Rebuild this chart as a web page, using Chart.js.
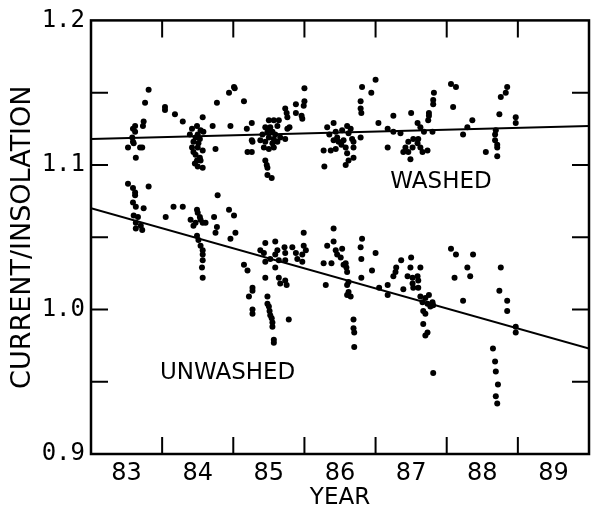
<!DOCTYPE html>
<html>
<head>
<meta charset="utf-8">
<script src="https://cdn.jsdelivr.net/npm/chart.js@4.4.0/dist/chart.umd.min.js"></script>
<style>
html, body { margin: 0; padding: 0; background: #fff; }
canvas { display: block; }
</style>
</head>
<body>
<canvas id="myChart" width="592" height="506"></canvas>
<script>
// axis labels and tick positions
const yearLabels = ['83', '84', '85', '86', '87', '88', '89'];
const yearLabelAt = [83.5, 84.5, 85.5, 86.5, 87.5, 88.5, 89.5];
const yearTicks = [84, 85, 86, 87, 88, 89];
const ratioTicks = [0.9, 1.0, 1.1, 1.2];
const ratioInnerTicks = [0.95, 1.0, 1.05, 1.1, 1.15];

// [year, current/insolation]
const washed = [
  [83.81,1.152],[83.76,1.143],[84.04,1.140],[84.04,1.138],[84.18,1.135],[84.29,1.130],[83.74,1.130],[83.73,1.127],
  [83.62,1.127],[83.59,1.125],[83.62,1.123],[83.58,1.119],[83.59,1.116],[83.60,1.115],[83.52,1.112],[83.69,1.112],
  [83.72,1.112],[83.63,1.105],
  [84.57,1.133],[84.71,1.127],[84.42,1.125],[84.49,1.127],[84.54,1.124],[84.58,1.123],[84.50,1.121],[84.47,1.119],
  [84.53,1.118],[84.44,1.116],[84.42,1.112],[84.50,1.112],[84.57,1.110],[84.44,1.109],[84.53,1.105],[84.49,1.103],
  [84.46,1.101],[84.57,1.098],[84.50,1.099],[84.77,1.143],[84.39,1.121],[84.51,1.115],[84.47,1.107],[84.54,1.103],
  [85.01,1.154],[85.02,1.153],[84.94,1.150],[85.15,1.144],[84.96,1.127],[85.19,1.125],[85.26,1.129],[85.26,1.117],
  [85.27,1.116],[85.20,1.109],[85.26,1.109],[84.75,1.111],
  [85.50,1.131],[85.57,1.131],[85.64,1.131],[85.45,1.126],[85.52,1.126],[85.62,1.127],[85.48,1.123],[85.55,1.123],
  [85.41,1.121],[85.50,1.119],[85.57,1.118],[85.66,1.119],[85.76,1.125],[85.73,1.118],[85.38,1.117],[85.45,1.116],
  [85.55,1.115],[85.62,1.116],[85.43,1.112],[85.50,1.111],[85.57,1.112],[85.45,1.103],[85.47,1.100],[85.48,1.098],
  [85.48,1.093],[85.54,1.091],[85.73,1.139],[85.75,1.136],[85.76,1.133],[85.88,1.142],[85.88,1.136],[85.96,1.134],
  [85.97,1.132],[86.00,1.153],[86.00,1.144],[85.99,1.141],[85.79,1.126],[85.52,1.124],[85.59,1.121],
  [86.41,1.129],[86.32,1.126],[86.44,1.123],[86.46,1.119],[86.41,1.117],[86.48,1.116],[86.27,1.110],[86.37,1.110],
  [86.44,1.111],[86.28,1.099],[86.60,1.127],[86.53,1.124],[86.62,1.122],[86.67,1.118],[86.55,1.117],[86.69,1.116],
  [86.58,1.112],[86.69,1.112],[86.60,1.108],[86.69,1.105],[86.62,1.103],[86.58,1.100],[86.79,1.119],[87.00,1.159],
  [86.81,1.154],[86.94,1.150],[86.79,1.144],[86.79,1.139],[86.80,1.136],[86.35,1.121],[86.52,1.114],[86.65,1.125],
  [87.25,1.134],[87.50,1.136],[87.04,1.129],[87.59,1.129],[87.63,1.126],[87.82,1.150],[87.81,1.145],[87.81,1.142],
  [87.75,1.136],[87.75,1.134],[87.74,1.131],[88.06,1.156],[88.13,1.154],[88.09,1.140],[88.23,1.121],[87.17,1.125],
  [87.35,1.122],[87.25,1.123],[87.17,1.112],[87.53,1.118],[87.60,1.118],[87.46,1.116],[87.59,1.115],[87.42,1.112],
  [87.52,1.112],[87.63,1.112],[87.39,1.109],[87.46,1.109],[87.66,1.109],[87.73,1.110],[87.49,1.104],[87.68,1.123],
  [87.80,1.123],
  [88.85,1.154],[88.83,1.150],[88.76,1.147],[88.74,1.135],[88.97,1.133],[88.97,1.129],[88.36,1.131],[88.29,1.126],
  [88.69,1.124],[88.68,1.121],[88.68,1.117],[88.71,1.114],[88.71,1.112],[88.71,1.106],[88.55,1.109]
];

const unwashed = [
  [83.52,1.087],[83.59,1.084],[83.62,1.081],[83.62,1.079],[83.81,1.085],[83.59,1.074],[83.63,1.071],[83.74,1.070],
  [83.60,1.065],[83.66,1.064],[83.63,1.060],[83.70,1.058],[83.63,1.056],[83.72,1.055],
  [84.05,1.064],[84.16,1.071],[84.29,1.071],[84.49,1.069],[84.50,1.067],[84.40,1.062],[84.47,1.060],[84.54,1.062],
  [84.61,1.060],[84.44,1.058],[84.57,1.060],[84.49,1.051],[84.51,1.048],[84.54,1.044],[84.57,1.041],[84.57,1.038],
  [84.57,1.034],[84.56,1.029],[84.57,1.022],[84.73,1.064],[84.77,1.057],[84.75,1.053],[84.78,1.079],[84.94,1.069],
  [85.01,1.065],[85.03,1.053],[84.96,1.049],[84.53,1.064],
  [85.45,1.046],[85.59,1.047],[85.38,1.041],[85.43,1.039],[85.62,1.041],[85.73,1.039],[85.59,1.038],[85.45,1.033],
  [85.52,1.035],[85.64,1.034],[85.73,1.034],[85.88,1.039],[85.90,1.035],[85.99,1.053],[85.99,1.044],[86.02,1.041],
  [85.97,1.038],[85.97,1.033],[85.59,1.029],[85.15,1.031],[85.20,1.027],[85.45,1.022],[85.64,1.022],[85.66,1.018],
  [85.73,1.020],[85.75,1.017],[85.27,1.015],[85.27,1.013],[85.22,1.009],[85.48,1.009],[85.48,1.004],[85.50,1.002],
  [85.51,0.999],[85.52,0.996],[85.54,0.994],[85.55,0.991],[85.55,0.988],[85.27,1.000],[85.27,0.997],[85.78,0.993],
  [85.57,0.979],[85.57,0.977],[85.72,1.043],[85.83,1.043],
  [86.41,1.056],[86.32,1.044],[86.41,1.047],[86.44,1.041],[86.46,1.038],[86.38,1.032],[86.27,1.032],[86.30,1.017],
  [86.53,1.042],[86.51,1.036],[86.58,1.032],[86.59,1.029],[86.60,1.026],[86.55,1.031],[86.62,1.019],[86.60,1.017],
  [86.62,1.012],[86.60,1.010],[86.65,1.009],[86.81,1.049],[86.79,1.043],[86.80,1.035],[86.80,1.022],[87.00,1.039],
  [86.95,1.027],[86.69,0.993],[86.69,0.987],[86.70,0.984],[86.70,0.974],
  [87.05,1.015],[87.17,1.017],[87.17,1.010],[87.36,1.034],[87.50,1.036],[87.29,1.029],[87.28,1.026],[87.25,1.023],
  [87.49,1.029],[87.63,1.029],[87.45,1.023],[87.52,1.022],[87.59,1.023],[87.60,1.020],[87.52,1.018],[87.39,1.014],
  [87.53,1.015],[87.60,1.015],[87.63,1.009],[87.70,1.008],[87.75,1.010],[87.66,1.005],[87.73,1.004],[87.80,1.005],
  [87.77,1.002],[87.81,1.003],[87.67,0.999],[87.70,0.997],[87.67,0.990],[87.73,0.984],[87.70,0.982],[87.81,0.956],
  [88.06,1.042],[88.13,1.038],[88.11,1.022],[88.23,1.006],
  [88.37,1.038],[88.29,1.029],[88.33,1.023],[88.76,1.029],[88.74,1.013],[88.85,1.006],[88.85,0.999],[88.97,0.988],
  [88.97,0.984],[88.65,0.973],[88.68,0.964],[88.69,0.957],[88.72,0.948],[88.69,0.940],[88.71,0.935]
];

// fitted lines
const washedTrend = [[83, 1.118], [90, 1.127]];
const unwashedTrend = [[83, 1.070], [90, 0.973]];

const seriesNames = ['WASHED', 'UNWASHED'];
const nameAt = [[87.92, 1.088], [84.92, 0.956]];

const toXY = arr => arr.map(p => ({ x: p[0], y: p[1] }));

// frame, inward ticks and the two labels
const framePlugin = {
  id: 'frame',
  afterDatasetsDraw(chart) {
    const { ctx, chartArea: a, scales: { x, y } } = chart;
    const len = 17;
    ctx.save();
    ctx.strokeStyle = '#000';
    ctx.lineWidth = 2;
    ctx.beginPath();
    yearTicks.forEach(v => {
      const px = x.getPixelForValue(v);
      ctx.moveTo(px, a.top); ctx.lineTo(px, a.top + len);
      ctx.moveTo(px, a.bottom); ctx.lineTo(px, a.bottom - len);
    });
    ratioInnerTicks.forEach(v => {
      const py = y.getPixelForValue(v);
      ctx.moveTo(a.left, py); ctx.lineTo(a.left + len, py);
      ctx.moveTo(a.right, py); ctx.lineTo(a.right - len, py);
    });
    ctx.stroke();
    ctx.lineWidth = 2.5;
    ctx.strokeRect(a.left, a.top, a.right - a.left, a.bottom - a.top);
    ctx.fillStyle = '#000';
    ctx.font = '23px "DejaVu Sans"';
    ctx.textAlign = 'center';
    ctx.textBaseline = 'middle';
    seriesNames.forEach((t, i) => {
      ctx.fillText(t, x.getPixelForValue(nameAt[i][0]), y.getPixelForValue(nameAt[i][1]));
    });
    ctx.restore();
  }
};

const dots = {
  type: 'scatter',
  pointRadius: 3,
  pointHoverRadius: 3,
  pointBorderWidth: 0,
  pointBackgroundColor: '#000',
  showLine: false
};
const trend = {
  type: 'line',
  borderColor: '#000',
  borderWidth: 2,
  pointRadius: 0,
  fill: false,
  tension: 0
};

const ctx = document.getElementById('myChart').getContext('2d');
const myChart = new Chart(ctx, {
  data: {
    datasets: [
      { ...dots, label: seriesNames[0], data: toXY(washed) },
      { ...dots, label: seriesNames[1], data: toXY(unwashed) },
      { ...trend, label: 'washed fit', data: toXY(washedTrend) },
      { ...trend, label: 'unwashed fit', data: toXY(unwashedTrend) }
    ]
  },
  options: {
    responsive: false,
    animation: false,
    devicePixelRatio: 1,
    layout: { padding: { top: 20, right: 2, left: 0, bottom: 0 } },
    plugins: { legend: { display: false }, tooltip: { enabled: false } },
    scales: {
      x: {
        type: 'linear',
        min: 83,
        max: 90,
        grid: { display: false, drawTicks: false },
        border: { display: false },
        afterBuildTicks: s => { s.ticks = yearLabelAt.map(v => ({ value: v })); },
        afterFit: s => { s.height = 52; },
        ticks: {
          color: '#000',
          padding: 5,
          maxRotation: 0,
          autoSkip: false,
          font: { family: 'DejaVu Sans', size: 24 },
          callback: (v, i) => yearLabels[i]
        },
        title: {
          display: true,
          text: 'YEAR',
          color: '#000',
          padding: { top: 0, bottom: -4 },
          font: { family: 'DejaVu Sans', size: 23, lineHeight: 1 }
        }
      },
      y: {
        type: 'linear',
        min: 0.9,
        max: 1.2,
        grid: { display: false, drawTicks: false },
        border: { display: false },
        afterBuildTicks: s => { s.ticks = ratioTicks.map(v => ({ value: v })); },
        afterFit: s => { s.width = 91; },
        ticks: {
          color: '#000',
          padding: 6,
          autoSkip: false,
          font: { family: 'DejaVu Sans Mono', size: 24 },
          callback: v => v.toFixed(1)
        },
        title: {
          display: true,
          text: 'CURRENT/INSOLATION',
          color: '#000',
          padding: { top: 7, bottom: 0 },
          font: { family: 'DejaVu Sans', size: 27, lineHeight: 1.2 }
        }
      }
    }
  },
  plugins: [framePlugin]
});
</script>
</body>
</html>
